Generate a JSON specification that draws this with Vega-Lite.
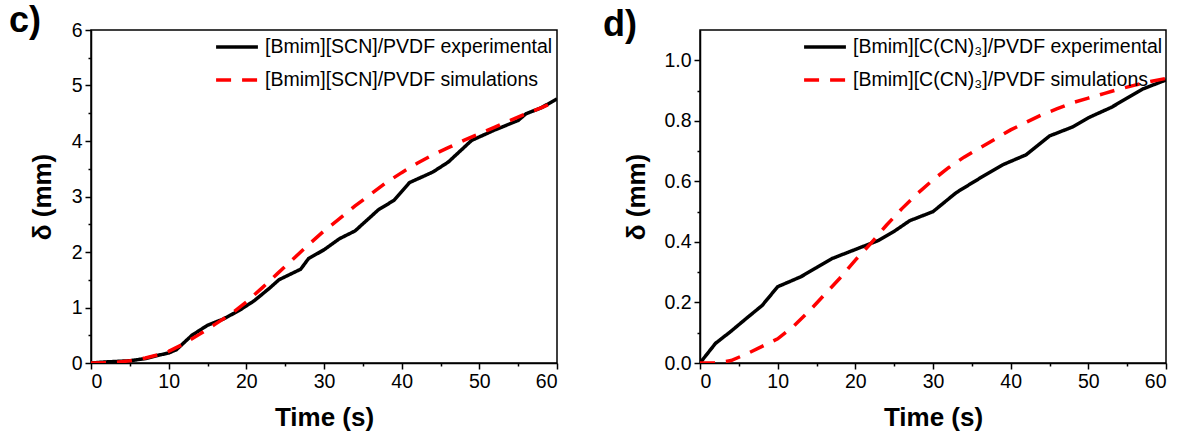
{
  "$schema": "https://vega.github.io/schema/vega-lite/v6.json",
  "padding": {"left": 8, "top": 2, "right": 0, "bottom": 0},
  "background": "white",
  "config": {
    "font": "Liberation Sans",
    "view": {"stroke": "black", "strokeWidth": 1.5},
    "axis": {
      "domainColor": "black", "domainWidth": 1.5, "tickColor": "black", "tickWidth": 1.5,
      "labelColor": "black", "labelFontSize": 19.5, "labelFont": "Liberation Sans",
      "titleFontSize": 26, "titleFontWeight": "bold", "titleColor": "black", "titleFont": "Liberation Sans",
      "grid": false, "labelOverlap": false, "labelPadding": 3
    },
    "legend": {
      "orient": "none", "legendY": -6, "labelFontSize": 19.5, "labelColor": "black", "labelFont": "Liberation Sans",
      "symbolType": "stroke", "symbolSize": 1750, "symbolStrokeWidth": 3.5, "rowPadding": -21,
      "labelLimit": 400, "title": null, "symbolOffset": 0, "labelOffset": 5
    },
    "title": {"fontSize": 36, "fontWeight": "bold", "anchor": "start", "color": "black", "font": "Liberation Sans"}
  },
  "spacing": 43,
  "resolve": {"scale": {"color": "independent", "strokeDash": "independent"}, "legend": {"color": "independent", "strokeDash": "independent"}},
  "hconcat": [
    {
      "title": {"text": "c)", "dx": -82, "offset": -20, "frame": "group"},
      "width": 466, "height": 333,
      "data": {"values": [
        {"t": 0, "d": 0, "series": "[Bmim][SCN]/PVDF experimental"},
        {"t": 2, "d": 0.02, "series": "[Bmim][SCN]/PVDF experimental"},
        {"t": 5, "d": 0.04, "series": "[Bmim][SCN]/PVDF experimental"},
        {"t": 7, "d": 0.08, "series": "[Bmim][SCN]/PVDF experimental"},
        {"t": 9, "d": 0.15, "series": "[Bmim][SCN]/PVDF experimental"},
        {"t": 10, "d": 0.18, "series": "[Bmim][SCN]/PVDF experimental"},
        {"t": 11, "d": 0.24, "series": "[Bmim][SCN]/PVDF experimental"},
        {"t": 13, "d": 0.5, "series": "[Bmim][SCN]/PVDF experimental"},
        {"t": 15, "d": 0.68, "series": "[Bmim][SCN]/PVDF experimental"},
        {"t": 17, "d": 0.79, "series": "[Bmim][SCN]/PVDF experimental"},
        {"t": 19, "d": 0.94, "series": "[Bmim][SCN]/PVDF experimental"},
        {"t": 21, "d": 1.12, "series": "[Bmim][SCN]/PVDF experimental"},
        {"t": 23, "d": 1.35, "series": "[Bmim][SCN]/PVDF experimental"},
        {"t": 24.2, "d": 1.5, "series": "[Bmim][SCN]/PVDF experimental"},
        {"t": 27, "d": 1.69, "series": "[Bmim][SCN]/PVDF experimental"},
        {"t": 28, "d": 1.88, "series": "[Bmim][SCN]/PVDF experimental"},
        {"t": 30, "d": 2.04, "series": "[Bmim][SCN]/PVDF experimental"},
        {"t": 32, "d": 2.24, "series": "[Bmim][SCN]/PVDF experimental"},
        {"t": 34, "d": 2.38, "series": "[Bmim][SCN]/PVDF experimental"},
        {"t": 35.5, "d": 2.57, "series": "[Bmim][SCN]/PVDF experimental"},
        {"t": 37, "d": 2.76, "series": "[Bmim][SCN]/PVDF experimental"},
        {"t": 39, "d": 2.93, "series": "[Bmim][SCN]/PVDF experimental"},
        {"t": 41, "d": 3.25, "series": "[Bmim][SCN]/PVDF experimental"},
        {"t": 44, "d": 3.44, "series": "[Bmim][SCN]/PVDF experimental"},
        {"t": 46, "d": 3.62, "series": "[Bmim][SCN]/PVDF experimental"},
        {"t": 49, "d": 4.01, "series": "[Bmim][SCN]/PVDF experimental"},
        {"t": 52, "d": 4.2, "series": "[Bmim][SCN]/PVDF experimental"},
        {"t": 55, "d": 4.37, "series": "[Bmim][SCN]/PVDF experimental"},
        {"t": 56, "d": 4.49, "series": "[Bmim][SCN]/PVDF experimental"},
        {"t": 58, "d": 4.6, "series": "[Bmim][SCN]/PVDF experimental"},
        {"t": 60, "d": 4.76, "series": "[Bmim][SCN]/PVDF experimental"},
        {"t": 0, "d": 0, "series": "[Bmim][SCN]/PVDF simulations"},
        {"t": 3, "d": 0.01, "series": "[Bmim][SCN]/PVDF simulations"},
        {"t": 5, "d": 0.04, "series": "[Bmim][SCN]/PVDF simulations"},
        {"t": 7, "d": 0.09, "series": "[Bmim][SCN]/PVDF simulations"},
        {"t": 9, "d": 0.16, "series": "[Bmim][SCN]/PVDF simulations"},
        {"t": 10, "d": 0.21, "series": "[Bmim][SCN]/PVDF simulations"},
        {"t": 12, "d": 0.35, "series": "[Bmim][SCN]/PVDF simulations"},
        {"t": 14, "d": 0.52, "series": "[Bmim][SCN]/PVDF simulations"},
        {"t": 16, "d": 0.7, "series": "[Bmim][SCN]/PVDF simulations"},
        {"t": 18, "d": 0.88, "series": "[Bmim][SCN]/PVDF simulations"},
        {"t": 20, "d": 1.1, "series": "[Bmim][SCN]/PVDF simulations"},
        {"t": 22, "d": 1.35, "series": "[Bmim][SCN]/PVDF simulations"},
        {"t": 24, "d": 1.61, "series": "[Bmim][SCN]/PVDF simulations"},
        {"t": 26, "d": 1.87, "series": "[Bmim][SCN]/PVDF simulations"},
        {"t": 28, "d": 2.13, "series": "[Bmim][SCN]/PVDF simulations"},
        {"t": 30, "d": 2.38, "series": "[Bmim][SCN]/PVDF simulations"},
        {"t": 32, "d": 2.6, "series": "[Bmim][SCN]/PVDF simulations"},
        {"t": 34, "d": 2.83, "series": "[Bmim][SCN]/PVDF simulations"},
        {"t": 36, "d": 3.04, "series": "[Bmim][SCN]/PVDF simulations"},
        {"t": 38, "d": 3.25, "series": "[Bmim][SCN]/PVDF simulations"},
        {"t": 40, "d": 3.43, "series": "[Bmim][SCN]/PVDF simulations"},
        {"t": 42, "d": 3.6, "series": "[Bmim][SCN]/PVDF simulations"},
        {"t": 44, "d": 3.75, "series": "[Bmim][SCN]/PVDF simulations"},
        {"t": 46, "d": 3.88, "series": "[Bmim][SCN]/PVDF simulations"},
        {"t": 48, "d": 4.01, "series": "[Bmim][SCN]/PVDF simulations"},
        {"t": 50, "d": 4.13, "series": "[Bmim][SCN]/PVDF simulations"},
        {"t": 52, "d": 4.25, "series": "[Bmim][SCN]/PVDF simulations"},
        {"t": 54, "d": 4.37, "series": "[Bmim][SCN]/PVDF simulations"},
        {"t": 56, "d": 4.49, "series": "[Bmim][SCN]/PVDF simulations"},
        {"t": 58, "d": 4.6, "series": "[Bmim][SCN]/PVDF simulations"},
        {"t": 60, "d": 4.72, "series": "[Bmim][SCN]/PVDF simulations"}
      ]},
      "mark": {"type": "line", "strokeWidth": 3.5, "clip": true},
      "encoding": {
        "x": {"field": "t", "type": "quantitative", "scale": {"domain": [0, 60], "nice": false},
          "axis": {"title": "Time (s)", "titlePadding": 14, "values": [0,5,10,15,20,25,30,35,40,45,50,55,60],
            "labelExpr": "datum.value % 10 === 0 ? datum.label : ''",
            "tickSize": {"condition": {"test": "datum.value % 10 !== 0", "value": 3}, "value": 6}}},
        "y": {"field": "d", "type": "quantitative", "scale": {"domain": [0, 6], "nice": false},
          "axis": {"title": "δ (mm)", "titlePadding": 16, "values": [0,0.5,1,1.5,2,2.5,3,3.5,4,4.5,5,5.5,6],
            "labelExpr": "datum.value % 1 === 0 ? format(datum.value, 'd') : ''",
            "tickSize": {"condition": {"test": "datum.value % 1 !== 0", "value": 3}, "value": 6}}},
        "color": {"field": "series", "type": "nominal",
          "scale": {"domain": ["[Bmim][SCN]/PVDF experimental", "[Bmim][SCN]/PVDF simulations"], "range": ["#000000", "#ff0000"]},
          "legend": {"legendX": 123}},
        "strokeDash": {"field": "series", "type": "nominal",
          "scale": {"domain": ["[Bmim][SCN]/PVDF experimental", "[Bmim][SCN]/PVDF simulations"], "range": [[1, 0], [15, 11]]},
          "legend": {"legendX": 123}}
      }
    },
    {
      "title": {"text": "d)", "dx": -97, "offset": -20, "frame": "group"},
      "width": 466, "height": 333,
      "data": {"values": [
        {"t": 0, "d": 0, "series": "[Bmim][C(CN)₃]/PVDF experimental"},
        {"t": 2, "d": 0.065, "series": "[Bmim][C(CN)₃]/PVDF experimental"},
        {"t": 4, "d": 0.105, "series": "[Bmim][C(CN)₃]/PVDF experimental"},
        {"t": 6, "d": 0.148, "series": "[Bmim][C(CN)₃]/PVDF experimental"},
        {"t": 8, "d": 0.19, "series": "[Bmim][C(CN)₃]/PVDF experimental"},
        {"t": 10, "d": 0.252, "series": "[Bmim][C(CN)₃]/PVDF experimental"},
        {"t": 13, "d": 0.285, "series": "[Bmim][C(CN)₃]/PVDF experimental"},
        {"t": 15, "d": 0.315, "series": "[Bmim][C(CN)₃]/PVDF experimental"},
        {"t": 17, "d": 0.345, "series": "[Bmim][C(CN)₃]/PVDF experimental"},
        {"t": 20, "d": 0.375, "series": "[Bmim][C(CN)₃]/PVDF experimental"},
        {"t": 23, "d": 0.405, "series": "[Bmim][C(CN)₃]/PVDF experimental"},
        {"t": 25, "d": 0.435, "series": "[Bmim][C(CN)₃]/PVDF experimental"},
        {"t": 27, "d": 0.47, "series": "[Bmim][C(CN)₃]/PVDF experimental"},
        {"t": 30, "d": 0.5, "series": "[Bmim][C(CN)₃]/PVDF experimental"},
        {"t": 33, "d": 0.563, "series": "[Bmim][C(CN)₃]/PVDF experimental"},
        {"t": 36, "d": 0.61, "series": "[Bmim][C(CN)₃]/PVDF experimental"},
        {"t": 39, "d": 0.655, "series": "[Bmim][C(CN)₃]/PVDF experimental"},
        {"t": 42, "d": 0.688, "series": "[Bmim][C(CN)₃]/PVDF experimental"},
        {"t": 45, "d": 0.75, "series": "[Bmim][C(CN)₃]/PVDF experimental"},
        {"t": 48, "d": 0.78, "series": "[Bmim][C(CN)₃]/PVDF experimental"},
        {"t": 50, "d": 0.81, "series": "[Bmim][C(CN)₃]/PVDF experimental"},
        {"t": 53, "d": 0.845, "series": "[Bmim][C(CN)₃]/PVDF experimental"},
        {"t": 55, "d": 0.875, "series": "[Bmim][C(CN)₃]/PVDF experimental"},
        {"t": 57, "d": 0.905, "series": "[Bmim][C(CN)₃]/PVDF experimental"},
        {"t": 60, "d": 0.935, "series": "[Bmim][C(CN)₃]/PVDF experimental"},
        {"t": 0, "d": 0, "series": "[Bmim][C(CN)₃]/PVDF simulations"},
        {"t": 2, "d": 0.0, "series": "[Bmim][C(CN)₃]/PVDF simulations"},
        {"t": 4, "d": 0.008, "series": "[Bmim][C(CN)₃]/PVDF simulations"},
        {"t": 6, "d": 0.03, "series": "[Bmim][C(CN)₃]/PVDF simulations"},
        {"t": 8, "d": 0.055, "series": "[Bmim][C(CN)₃]/PVDF simulations"},
        {"t": 10, "d": 0.08, "series": "[Bmim][C(CN)₃]/PVDF simulations"},
        {"t": 12, "d": 0.12, "series": "[Bmim][C(CN)₃]/PVDF simulations"},
        {"t": 14, "d": 0.17, "series": "[Bmim][C(CN)₃]/PVDF simulations"},
        {"t": 16, "d": 0.225, "series": "[Bmim][C(CN)₃]/PVDF simulations"},
        {"t": 18, "d": 0.28, "series": "[Bmim][C(CN)₃]/PVDF simulations"},
        {"t": 20, "d": 0.34, "series": "[Bmim][C(CN)₃]/PVDF simulations"},
        {"t": 22, "d": 0.395, "series": "[Bmim][C(CN)₃]/PVDF simulations"},
        {"t": 24, "d": 0.455, "series": "[Bmim][C(CN)₃]/PVDF simulations"},
        {"t": 26, "d": 0.51, "series": "[Bmim][C(CN)₃]/PVDF simulations"},
        {"t": 28, "d": 0.56, "series": "[Bmim][C(CN)₃]/PVDF simulations"},
        {"t": 30, "d": 0.605, "series": "[Bmim][C(CN)₃]/PVDF simulations"},
        {"t": 32, "d": 0.645, "series": "[Bmim][C(CN)₃]/PVDF simulations"},
        {"t": 34, "d": 0.68, "series": "[Bmim][C(CN)₃]/PVDF simulations"},
        {"t": 36, "d": 0.71, "series": "[Bmim][C(CN)₃]/PVDF simulations"},
        {"t": 38, "d": 0.74, "series": "[Bmim][C(CN)₃]/PVDF simulations"},
        {"t": 40, "d": 0.77, "series": "[Bmim][C(CN)₃]/PVDF simulations"},
        {"t": 42, "d": 0.795, "series": "[Bmim][C(CN)₃]/PVDF simulations"},
        {"t": 44, "d": 0.82, "series": "[Bmim][C(CN)₃]/PVDF simulations"},
        {"t": 46, "d": 0.84, "series": "[Bmim][C(CN)₃]/PVDF simulations"},
        {"t": 48, "d": 0.86, "series": "[Bmim][C(CN)₃]/PVDF simulations"},
        {"t": 50, "d": 0.875, "series": "[Bmim][C(CN)₃]/PVDF simulations"},
        {"t": 52, "d": 0.89, "series": "[Bmim][C(CN)₃]/PVDF simulations"},
        {"t": 54, "d": 0.905, "series": "[Bmim][C(CN)₃]/PVDF simulations"},
        {"t": 56, "d": 0.918, "series": "[Bmim][C(CN)₃]/PVDF simulations"},
        {"t": 58, "d": 0.93, "series": "[Bmim][C(CN)₃]/PVDF simulations"},
        {"t": 60, "d": 0.94, "series": "[Bmim][C(CN)₃]/PVDF simulations"}
      ]},
      "mark": {"type": "line", "strokeWidth": 3.5, "clip": true},
      "encoding": {
        "x": {"field": "t", "type": "quantitative", "scale": {"domain": [0, 60], "nice": false},
          "axis": {"title": "Time (s)", "titlePadding": 14, "values": [0,5,10,15,20,25,30,35,40,45,50,55,60],
            "labelExpr": "datum.value % 10 === 0 ? datum.label : ''",
            "tickSize": {"condition": {"test": "datum.value % 10 !== 0", "value": 3}, "value": 6}}},
        "y": {"field": "d", "type": "quantitative", "scale": {"domain": [0, 1.1], "nice": false, "zero": true},
          "axis": {"title": "δ (mm)", "titlePadding": 14, "values": [0,0.1,0.2,0.3,0.4,0.5,0.6,0.7,0.8,0.9,1.0],
            "labelExpr": "round(datum.value * 10) % 2 === 0 ? format(datum.value, '.1f') : ''",
            "tickSize": {"condition": {"test": "round(datum.value * 10) % 2 !== 0", "value": 3}, "value": 6}}},
        "color": {"field": "series", "type": "nominal",
          "scale": {"domain": ["[Bmim][C(CN)₃]/PVDF experimental", "[Bmim][C(CN)₃]/PVDF simulations"], "range": ["#000000", "#ff0000"]},
          "legend": {"legendX": 102}},
        "strokeDash": {"field": "series", "type": "nominal",
          "scale": {"domain": ["[Bmim][C(CN)₃]/PVDF experimental", "[Bmim][C(CN)₃]/PVDF simulations"], "range": [[1, 0], [15, 11]]},
          "legend": {"legendX": 102}}
      }
    }
  ]
}
